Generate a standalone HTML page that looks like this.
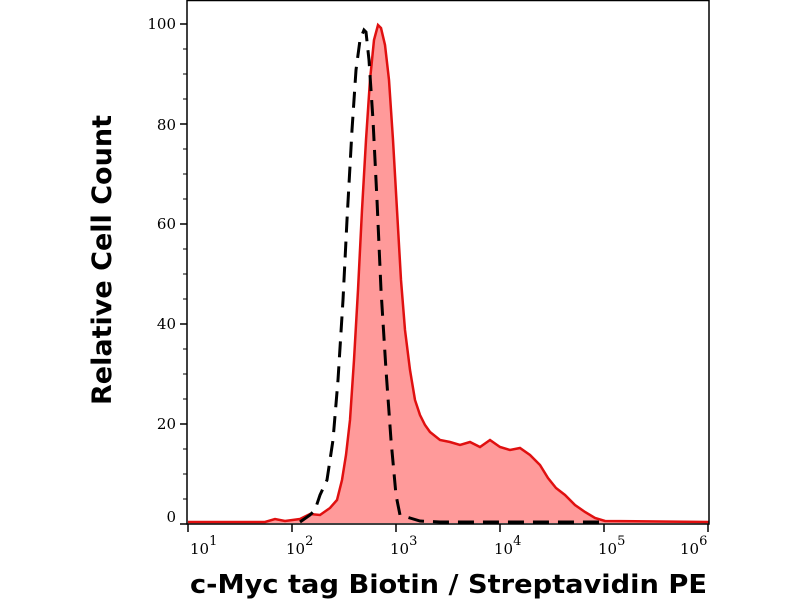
<!DOCTYPE html>
<html><head><style>body{margin:0;background:#fff}svg{display:block}</style></head><body>
<svg width="800" height="600" xmlns="http://www.w3.org/2000/svg">
<rect width="800" height="600" fill="#fff"/>
<polygon fill="#ff9a9a" points="188,523 265,522 275,519 285,521 300,519 310,514 320,515 330,508 337,500 342,480 346,455 350,420 354,360 358,290 362,210 366,140 370,80 374,40 378,25 381,28 385,45 389,80 393,140 397,210 401,280 405,330 410,370 415,400 420,415 425,425 430,432 440,440 450,442 460,445 470,442 480,447 490,440 500,447 510,450 520,448 530,455 540,465 548,478 556,488 565,495 575,505 585,512 595,518 605,521 709,522 709,523"/>
<polyline fill="none" stroke="#e01010" stroke-width="2.5" points="188,522 265,522 275,519 285,521 300,519 310,514 320,515 330,508 337,500 342,480 346,455 350,420 354,360 358,290 362,210 366,140 370,80 374,40 378,25 381,28 385,45 389,80 393,140 397,210 401,280 405,330 410,370 415,400 420,415 425,425 430,432 440,440 450,442 460,445 470,442 480,447 490,440 500,447 510,450 520,448 530,455 540,465 548,478 556,488 565,495 575,505 585,512 595,518 605,521 709,522"/>
<polyline fill="none" stroke="#000" stroke-width="3" stroke-dasharray="16,9" points="300,522 310,515 315,510 320,495 327,480 333,440 338,380 343,300 347,220 352,130 356,70 360,40 364,30 366,32 369,60 373,120 377,200 381,290 386,370 391,440 396,495 400,515 410,518 420,521 440,522 600,522"/>
<path d="M187,0V524H709V0M187,0.5H709" fill="none" stroke="#000" stroke-width="1.5"/>
<g stroke="#000" stroke-width="1.5">
<line x1="180" y1="24" x2="187" y2="24"/><line x1="180" y1="124" x2="187" y2="124"/><line x1="180" y1="224" x2="187" y2="224"/><line x1="180" y1="324" x2="187" y2="324"/><line x1="180" y1="424" x2="187" y2="424"/><line x1="180" y1="524" x2="187" y2="524"/>
<line x1="188" y1="524" x2="188" y2="532"/><line x1="292" y1="524" x2="292" y2="532"/><line x1="396" y1="524" x2="396" y2="532"/><line x1="500" y1="524" x2="500" y2="532"/><line x1="604" y1="524" x2="604" y2="532"/><line x1="708" y1="524" x2="708" y2="532"/>
</g>
<g stroke="#000" stroke-width="1">
<line x1="183" y1="49" x2="187" y2="49"/><line x1="183" y1="74" x2="187" y2="74"/><line x1="183" y1="99" x2="187" y2="99"/>
<line x1="183" y1="149" x2="187" y2="149"/><line x1="183" y1="174" x2="187" y2="174"/><line x1="183" y1="199" x2="187" y2="199"/>
<line x1="183" y1="249" x2="187" y2="249"/><line x1="183" y1="274" x2="187" y2="274"/><line x1="183" y1="299" x2="187" y2="299"/>
<line x1="183" y1="349" x2="187" y2="349"/><line x1="183" y1="374" x2="187" y2="374"/><line x1="183" y1="399" x2="187" y2="399"/>
<line x1="183" y1="449" x2="187" y2="449"/><line x1="183" y1="474" x2="187" y2="474"/><line x1="183" y1="499" x2="187" y2="499"/>
</g>
<g font-family="DejaVu Serif, Liberation Serif, serif" font-size="15" fill="#000">
<text x="176" y="29" text-anchor="end">100</text><text x="176" y="130" text-anchor="end">80</text><text x="176" y="229" text-anchor="end">60</text><text x="176" y="329" text-anchor="end">40</text><text x="176" y="429" text-anchor="end">20</text><text x="176" y="522" text-anchor="end">0</text>
<text x="190" y="554">10<tspan dy="-9" font-size="13">1</tspan></text>
<text x="286" y="554">10<tspan dy="-9" font-size="13">2</tspan></text>
<text x="390" y="554">10<tspan dy="-9" font-size="13">3</tspan></text>
<text x="494" y="554">10<tspan dy="-9" font-size="13">4</tspan></text>
<text x="598" y="554">10<tspan dy="-9" font-size="13">5</tspan></text>
<text x="680" y="554">10<tspan dy="-9" font-size="13">6</tspan></text>
</g>
<text x="190" y="593" textLength="517" lengthAdjust="spacingAndGlyphs" font-family="DejaVu Sans, Liberation Sans, sans-serif" font-weight="bold" font-size="26">c-Myc tag Biotin / Streptavidin PE</text>
<text transform="translate(111,405) rotate(-90)" textLength="290" lengthAdjust="spacingAndGlyphs" font-family="DejaVu Sans, Liberation Sans, sans-serif" font-weight="bold" font-size="27">Relative Cell Count</text>
</svg>
</body></html>
